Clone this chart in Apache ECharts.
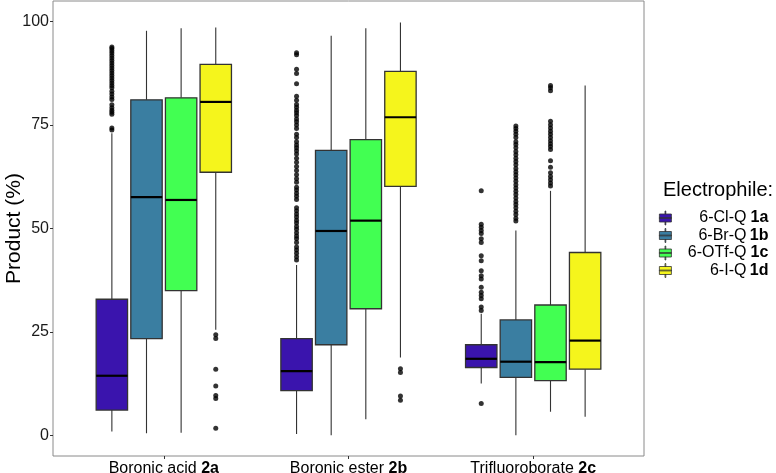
<!DOCTYPE html>
<html>
<head>
<meta charset="utf-8">
<script src="https://cdn.jsdelivr.net/npm/echarts@6/dist/echarts.min.js"></script>
<style>
  html, body { margin: 0; padding: 0; background: #fff; }
  #chart { width: 776px; height: 473px; }
</style>
</head>
<body>
<div id="chart"></div>
<script>
// categories on the x axis
const categories = ['Boronic acid', 'Boronic ester', 'Trifluoroborate'];
const categoryTags = ['2a', '2b', '2c'];

// electrophiles (legend)
const electrophiles = ['6-Cl-Q', '6-Br-Q', '6-OTf-Q', '6-I-Q'];
const electrophileTags = ['1a', '1b', '1c', '1d'];
const colors = ['#3a14ad', '#3a7ea1', '#42ff52', '#f5f51c'];

// box stats per category: [lower whisker, Q1, median, Q3, upper whisker]
const clQ = [
  [0.9, 6.1, 14.4, 32.9, 73.0],
  [0.3, 10.8, 15.5, 23.4, 41.2],
  [12.5, 16.4, 18.5, 21.9, 29.4]
];
const brQ = [
  [0.5, 23.4, 57.6, 81.1, 97.8],
  [0.0, 21.9, 49.4, 68.9, 96.6],
  [0.0, 14.0, 17.8, 27.9, 49.5]
];
const otfQ = [
  [0.6, 35.0, 56.9, 81.6, 98.4],
  [3.9, 30.6, 51.9, 71.5, 98.4],
  [5.7, 13.2, 17.7, 31.5, 59.1]
];
const iQ = [
  [25.5, 63.6, 80.6, 89.7, 98.6],
  [18.8, 60.2, 76.9, 88.0, 99.8],
  [4.5, 16.0, 22.9, 44.2, 84.6]
];

// outliers per category
const clQOut = [
  [73.8, 74.3, 77.6, 78.1, 78.6, 79.2, 79.9, 81.2, 81.8, 82.5, 83.2, 84.0, 84.6, 85.2, 85.8,
   86.4, 87.0, 87.6, 88.2, 88.8, 89.4, 90.0, 90.6, 91.2, 91.8, 92.4, 93.0, 93.5, 93.9],
  [42.4, 43.2, 44.0, 44.8, 45.5, 46.6, 47.5, 48.2, 49.0, 49.8, 50.5, 51.3, 52.0, 52.8, 53.5,
   54.3, 55.0, 57.0, 57.8, 58.5, 59.3, 60.0, 61.2, 62.0, 63.0, 64.0, 65.0, 66.0, 67.0, 68.0,
   68.8, 69.5, 70.2, 71.0, 72.0, 72.8, 74.2, 75.0, 75.8, 76.5, 77.3, 78.0, 78.6, 79.3, 80.0,
   81.0, 82.0, 85.0, 87.5, 88.5, 92.0, 92.5],
  [7.7, 30.2, 31.0, 33.0, 33.8, 34.6, 35.8, 37.8, 38.6, 39.8, 42.2, 43.4, 46.6, 47.5, 48.8,
   49.5, 50.3, 51.0, 59.1]
];
const brQOut = [
  [],
  [],
  [51.8, 52.5, 53.4, 54.2, 55.0, 55.8, 56.5, 57.4, 58.2, 59.0, 59.8, 60.6, 61.4, 62.2, 63.0,
   63.7, 64.5, 65.4, 66.2, 67.0, 67.8, 68.6, 69.5, 70.3, 71.0, 72.0, 72.8, 73.5, 74.2, 74.8]
];
const otfQOut = [
  [],
  [],
  [60.3, 61.0, 61.8, 62.6, 63.5, 64.8, 66.4, 69.1, 69.8, 70.5, 71.2, 72.0, 72.8, 73.5, 74.3,
   75.1, 75.9, 83.3, 84.0, 84.6]
];
const iQOut = [
  [1.7, 8.9, 9.6, 11.9, 16.0, 23.4, 24.3],
  [8.5, 9.5, 15.2, 16.1],
  []
];

// axis tick labels
const yTicks = [0, 25, 50, 75, 100];
const xTicks = [1, 2, 3];

const boxStats = [clQ, brQ, otfQ, iQ];
const outliers = [clQOut, brQOut, otfQOut, iQOut];

// dodge like ggplot: 0.75 wide group, 4 boxes
const dodge = 0.75 / 4;
const boxWidth = 0.17;

function renderBox(params, api) {
  const x = api.value(0);
  const w = api.size([boxWidth, 0])[0];
  const pLo = api.coord([x, api.value(1)]);
  const pQ1 = api.coord([x, api.value(2)]);
  const pMed = api.coord([x, api.value(3)]);
  const pQ3 = api.coord([x, api.value(4)]);
  const pHi = api.coord([x, api.value(5)]);
  const cx = pMed[0];
  const line = { stroke: '#333', lineWidth: 1.1 };
  return {
    type: 'group',
    children: [
      { type: 'line', shape: { x1: cx, y1: pHi[1], x2: cx, y2: pQ3[1] }, style: line },
      { type: 'line', shape: { x1: cx, y1: pQ1[1], x2: cx, y2: pLo[1] }, style: line },
      {
        type: 'rect',
        shape: { x: cx - w / 2, y: pQ3[1], width: w, height: pQ1[1] - pQ3[1] },
        style: { fill: api.visual('color'), stroke: '#333', lineWidth: 1.3 }
      },
      {
        type: 'line',
        shape: { x1: cx - w / 2, y1: pMed[1], x2: cx + w / 2, y2: pMed[1] },
        style: { stroke: '#000', lineWidth: 2.2 }
      }
    ]
  };
}

const series = [];
electrophiles.forEach(function (name, s) {
  const off = (s - 1.5) * dodge;
  series.push({
    name: name,
    type: 'custom',
    renderItem: renderBox,
    itemStyle: { color: colors[s], borderColor: '#333', borderWidth: 1 },
    encode: { x: 0, y: [1, 2, 3, 4, 5] },
    data: boxStats[s].map(function (b, ci) { return [ci + 1 + off].concat(b); }),
    z: 2
  });
  const pts = [];
  outliers[s].forEach(function (list, ci) {
    list.forEach(function (v) { pts.push([ci + 1 + off, v]); });
  });
  series.push({
    name: name + ' outliers',
    type: 'scatter',
    symbol: 'circle',
    symbolSize: 5,
    itemStyle: { color: '#000' },
    silent: true,
    data: pts,
    z: 3
  });
});

const chart = echarts.init(document.getElementById('chart'), null, { renderer: 'canvas' });
chart.setOption({
  animation: false,
  backgroundColor: '#fff',
  textStyle: { fontFamily: 'Liberation Sans, Arial, sans-serif' },
  title: {
    text: 'Electrophile:',
    left: 658,
    top: 175,
    textStyle: { fontSize: 20, fontWeight: 'normal', color: '#000', fontFamily: 'Liberation Sans' }
  },
  legend: {
    data: electrophiles,
    orient: 'vertical',
    left: 659,
    top: 210,
    padding: 0,
    itemWidth: 12,
    itemHeight: 14,
    itemGap: 1.5,
    selectedMode: false,
    icon: 'path://M5.6,0H6.4V3H5.6Z M0,3H12V11H0Z M0,6.6H12V7.4H0Z M5.6,11H6.4V14H5.6Z',
    itemStyle: { borderColor: '#333', borderWidth: 0.8 },
    formatter: function (name) {
      const i = electrophiles.indexOf(name);
      return '{n|' + name + '}{b|' + electrophileTags[i] + '}';
    },
    textStyle: {
      color: '#000',
      fontSize: 16,
      lineHeight: 14,
      rich: {
        n: { fontSize: 16, lineHeight: 14, width: 70, align: 'right', color: '#000' },
        b: { fontSize: 16, lineHeight: 14, fontWeight: 'bold', width: 22, align: 'right', color: '#000' }
      }
    }
  },
  grid: {
    left: 53,
    right: 132,
    top: 1,
    bottom: 17,
    containLabel: false,
    outerBoundsMode: 'none',
    show: true,
    borderColor: '#8a8a8a',
    borderWidth: 1,
    backgroundColor: 'transparent'
  },
  xAxis: {
    type: 'value',
    min: 0.4,
    max: 3.6,
    axisLine: { show: false, onZero: false },
    splitLine: { show: false },
    axisTick: { show: true, customValues: xTicks, length: 3, lineStyle: { color: '#333' } },
    axisLabel: {
      customValues: xTicks,
      margin: 5,
      color: '#000',
      formatter: function (v) {
        const i = Math.round(v) - 1;
        return '{n|' + categories[i] + ' }{b|' + categoryTags[i] + '}';
      },
      rich: {
        n: { fontSize: 16, color: '#000' },
        b: { fontSize: 16, fontWeight: 'bold', color: '#000' }
      }
    }
  },
  yAxis: {
    type: 'value',
    min: -5,
    max: 105,
    name: 'Product (%)',
    nameLocation: 'middle',
    nameGap: 28,
    nameMoveOverlap: false,
    nameTextStyle: { fontSize: 21, color: '#000' },
    axisLine: { show: false, onZero: false },
    splitLine: { show: false },
    axisTick: { show: true, customValues: yTicks, length: 3, lineStyle: { color: '#333' } },
    axisLabel: { customValues: yTicks, fontSize: 16, color: '#1a1a1a', margin: 4 }
  },
  series: series
});
</script>
</body>
</html>
